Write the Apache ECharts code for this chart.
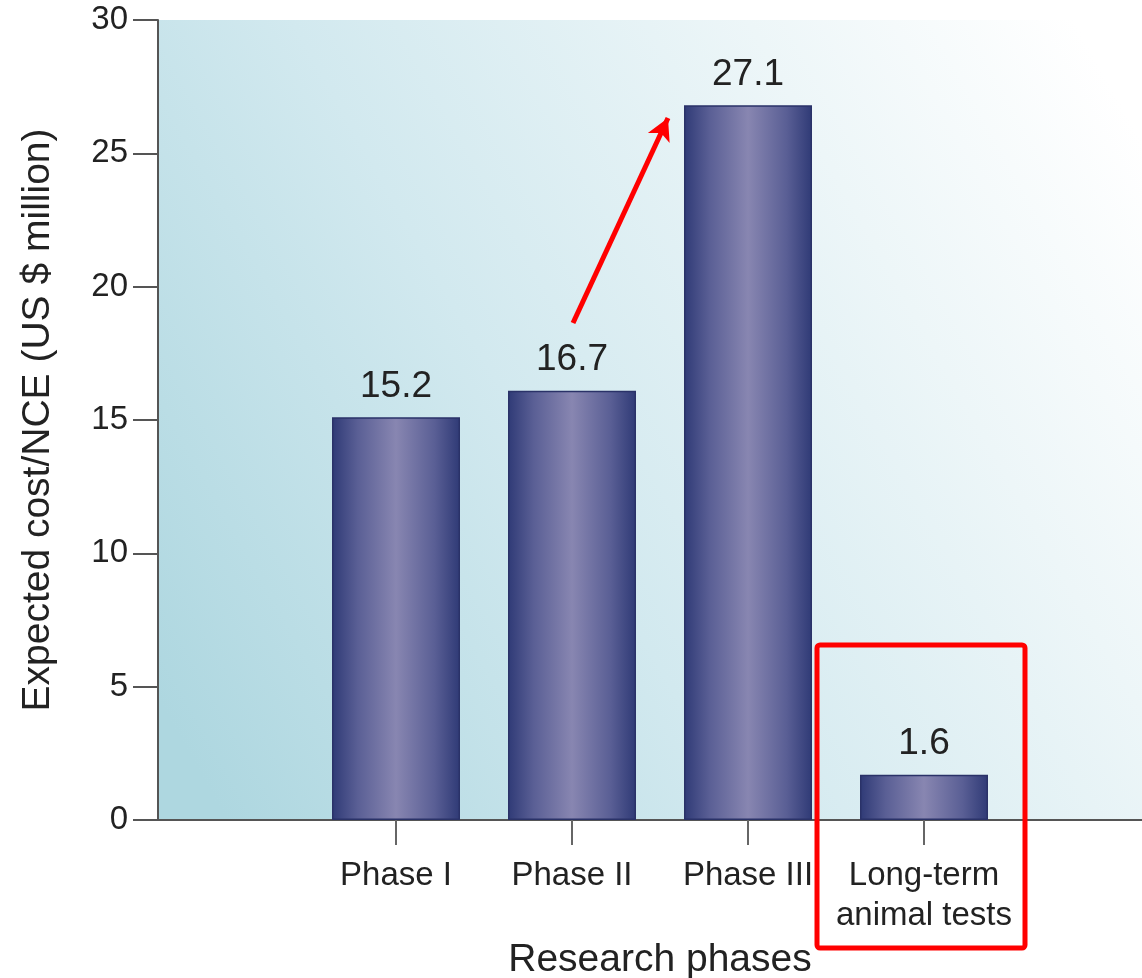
<!DOCTYPE html>
<html>
<head>
<meta charset="utf-8">
<script src="https://cdn.jsdelivr.net/npm/echarts@6/dist/echarts.min.js"></script>
<style>html,body{margin:0;padding:0;background:#fff}#c{width:1142px;height:978px}</style>
</head>
<body>
<div id="c"></div>
<script>
const categories = ['Phase I', 'Phase II', 'Phase III', 'Long-term\nanimal tests'];
// bar heights as drawn in the picture
const barHeights = [15.1, 16.1, 26.8, 1.7];
// printed value labels above the bars
const valueLabels = ['15.2', '16.7', '27.1', '1.6'];
const yTicks = [0, 5, 10, 15, 20, 25, 30];

const FONT = '"Liberation Sans", Arial, Helvetica, sans-serif';
const chart = echarts.init(document.getElementById('c'), null, {renderer: 'canvas'});

const barGrad = new echarts.graphic.LinearGradient(0, 0, 1, 0, [
  {offset: 0, color: '#2f3a76'},
  {offset: 0.2, color: '#5a5f95'},
  {offset: 0.5, color: '#8886b1'},
  {offset: 0.8, color: '#5a5f95'},
  {offset: 1, color: '#2f3a76'}
]);
const bgGrad = new echarts.graphic.LinearGradient(0, 0.85, 1, 0.15, [
  {offset: 0, color: '#aed7e0'},
  {offset: 0.4, color: '#d2e9ef'},
  {offset: 0.75, color: '#edf6f8'},
  {offset: 1, color: '#ffffff'}
]);

const option = {
  animation: false,
  backgroundColor: '#ffffff',
  grid: [
    {left: 158, right: 0, top: 20, bottom: 158, show: true, backgroundColor: bgGrad, borderWidth: 0,
     containLabel: false, outerBoundsMode: 'none'},
    {left: 308, right: 130, top: 20, bottom: 158, containLabel: false, outerBoundsMode: 'none'}
  ],
  xAxis: [
    {gridIndex: 0, type: 'value', min: 0, max: 1,
     axisLine: {show: true, lineStyle: {color: '#555', width: 2}},
     axisTick: {show: false}, axisLabel: {show: false}, splitLine: {show: false}},
    {gridIndex: 1, type: 'category', data: categories,
     axisLine: {show: false},
     axisTick: {show: true, alignWithLabel: true, length: 25, lineStyle: {color: '#666', width: 2}},
     axisLabel: {interval: 0, fontFamily: FONT, fontSize: 33, color: '#222', margin: 36, lineHeight: 40},
     name: 'Research phases', nameLocation: 'middle', nameGap: 110,
     nameTextStyle: {fontFamily: FONT, fontSize: 39, color: '#222'}}
  ],
  yAxis: [
    {gridIndex: 0, type: 'value', min: yTicks[0], max: yTicks[yTicks.length - 1], interval: 5,
     axisLine: {show: true, lineStyle: {color: '#555', width: 2}},
     axisTick: {show: true, inside: false, length: 25, lineStyle: {color: '#555', width: 2}},
     axisLabel: {fontFamily: FONT, fontSize: 33, color: '#222', margin: 30},
     splitLine: {show: false},
     name: 'Expected cost/NCE (US $ million)', nameLocation: 'middle', nameGap: 100,
     nameTextStyle: {fontFamily: FONT, fontSize: 39, color: '#222'}},
    {gridIndex: 1, type: 'value', min: 0, max: 30, show: false}
  ],
  series: [
    {type: 'bar', xAxisIndex: 1, yAxisIndex: 1, data: barHeights, barWidth: 128,
     itemStyle: {color: barGrad, borderColor: '#2a3268', borderWidth: 1.5},
     label: {show: true, position: 'top', distance: 12, fontFamily: FONT, fontSize: 37, color: '#222',
             formatter: p => valueLabels[p.dataIndex]},
     markLine: {
       silent: true, symbol: ['none', 'arrow'], symbolSize: [18, 22],
       lineStyle: {color: '#ff0000', width: 5, type: 'solid'}, label: {show: false},
       data: [[{x: 573, y: 323}, {x: 668, y: 118}]]
     }}
  ],
  graphic: [
    {type: 'rect', shape: {x: 817, y: 645, width: 208, height: 303, r: 3},
     style: {fill: 'none', stroke: '#ff0000', lineWidth: 5}, z: 100}
  ]
};
chart.setOption(option);
</script>
</body>
</html>
